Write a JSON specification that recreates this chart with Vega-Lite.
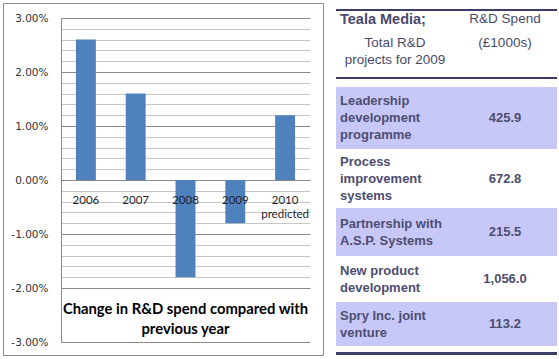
{
  "$schema": "https://vega.github.io/schema/vega-lite/v6.json",
  "background": "white",
  "padding": {"left": 2, "top": 2, "right": 0, "bottom": 0},
  "config": {"view": {"stroke": null}},
  "datasets": {
    "changes": [
      {"year": "2006", "change": 0.026},
      {"year": "2007", "change": 0.016},
      {"year": "2008", "change": -0.018},
      {"year": "2009", "change": -0.008},
      {"year": "2010", "change": 0.012}
    ],
    "projects": [
      {"project": "Leadership\ndevelopment\nprogramme", "spend": 425.9},
      {"project": "Process\nimprovement\nsystems", "spend": 672.8},
      {"project": "Partnership with\nA.S.P. Systems", "spend": 215.5},
      {"project": "New product\ndevelopment", "spend": 1056.0},
      {"project": "Spry Inc. joint\nventure", "spend": 113.2}
    ]
  },
  "spacing": 13,
  "bounds": "flush",
  "hconcat": [
    {
      "width": 320,
      "height": 352,
      "view": {"stroke": "#8c8c8c"},
      "layer": [
        {
          "data": {"name": "changes"},
          "mark": {"type": "bar", "color": "#4f81bd"},
          "encoding": {
            "x": {
              "field": "year", "type": "nominal", "sort": null,
              "scale": {"type": "band", "range": [58, 307], "paddingInner": 0.6, "paddingOuter": 0.3},
              "axis": {
                "orient": "bottom", "offset": -175, "domain": false, "ticks": false, "title": null, "zindex": 1,
                "labelAngle": 0, "labelFont": "Lato", "labelFontSize": 11.5, "labelColor": "#1f1f2f",
                "labelPadding": 14, "labelLineHeight": 14,
                "labelExpr": "datum.value == '2010' ? ['2010', 'predicted'] : datum.value"
              }
            },
            "y": {
              "field": "change", "type": "quantitative",
              "scale": {"domain": [-0.03, 0.03], "range": [339, 15], "nice": false, "zero": false},
              "axis": {
                "orient": "left", "offset": -58, "title": null, "tickCount": 100, "labelOverlap": false,
                "values": [-0.03, -0.02, -0.018, -0.016, -0.014, -0.012, -0.01, -0.008, -0.006, -0.004, -0.002, 0, 0.002, 0.004, 0.006, 0.008, 0.01, 0.012, 0.014, 0.016, 0.018, 0.02, 0.022, 0.024, 0.026, 0.028, 0.03],
                "labelExpr": "abs(datum.value * 100 - round(datum.value * 100)) < 0.001 ? (datum.value < 0 ? '-' : '') + format(abs(datum.value), '.2%') : ''",
                "grid": true,
                "gridColor": {"condition": {"test": "abs(datum.value * 100 - round(datum.value * 100)) < 0.001", "value": "#8a8a8a"}, "value": "#c6c6c6"},
                "ticks": false, "domain": true, "domainColor": "#8a8a8a",
                "labelFont": "DejaVu Sans", "labelFontSize": 10.5, "labelColor": "#333333", "labelPadding": 13
              }
            }
          }
        },
        {
          "data": {"values": [{"caption": "Change in R&D spend compared with\nprevious year"}]},
          "mark": {"type": "text", "lineBreak": "\n", "lineHeight": 20, "font": "Lato", "fontWeight": "bold", "fontSize": 14.8, "baseline": "middle", "align": "center", "color": "#000000"},
          "encoding": {
            "text": {"field": "caption"},
            "x": {"datum": "2008"},
            "y": {"datum": -0.024}
          }
        }
      ]
    },
    {
      "spacing": 0,
      "bounds": "flush",
      "vconcat": [
        {"width": 221, "height": 6, "data": {"values": [{}]}, "mark": {"type": "rect", "opacity": 0}, "encoding": {}},
        {"width": 221, "height": 2, "view": {"fill": "#3d3d6b"}, "data": {"values": [{}]}, "mark": {"type": "rect", "opacity": 0}, "encoding": {}},
        {
          "width": 221, "height": 66,
          "data": {"values": [{}]},
          "layer": [
            {
              "mark": {"type": "text", "text": "Teala Media;", "align": "left", "baseline": "line-top", "lineHeight": 17, "font": "Liberation Sans", "fontSize": 14.5, "fontWeight": "bold", "color": "#4a4a6c"},
              "encoding": {
                "x": {"datum": "Project", "bandPosition": 0, "scale": {"type": "band", "domain": ["Project", "Spend"], "range": [4, 224], "paddingInner": 0, "paddingOuter": 0}, "axis": null},
                "y": {"datum": 1, "type": "ordinal", "scale": {"type": "point", "domain": [1, 2], "range": [0, 23.5], "padding": 0}, "axis": null}
              }
            },
            {
              "mark": {"type": "text", "text": ["Total R&D", "projects for 2009"], "align": "center", "baseline": "line-top", "lineHeight": 17, "font": "Liberation Sans", "fontSize": 13.5, "color": "#4a4a6c"},
              "encoding": {
                "x": {"datum": "Project", "scale": {"type": "band", "domain": ["Project", "Spend"], "range": [4, 224], "paddingInner": 0, "paddingOuter": 0}, "axis": null},
                "y": {"datum": 2, "type": "ordinal", "scale": {"type": "point", "domain": [1, 2], "range": [0, 23.5], "padding": 0}, "axis": null}
              }
            },
            {
              "mark": {"type": "text", "text": "R&D Spend", "align": "center", "baseline": "line-top", "lineHeight": 17, "font": "Liberation Sans", "fontSize": 13.5, "color": "#4a4a6c"},
              "encoding": {
                "x": {"datum": "Spend", "scale": {"type": "band", "domain": ["Project", "Spend"], "range": [4, 224], "paddingInner": 0, "paddingOuter": 0}, "axis": null},
                "y": {"datum": 1, "type": "ordinal", "scale": {"type": "point", "domain": [1, 2], "range": [0, 23.5], "padding": 0}, "axis": null}
              }
            },
            {
              "mark": {"type": "text", "text": "(£1000s)", "align": "center", "baseline": "line-top", "lineHeight": 17, "font": "Liberation Sans", "fontSize": 13.5, "color": "#4a4a6c"},
              "encoding": {
                "x": {"datum": "Spend", "scale": {"type": "band", "domain": ["Project", "Spend"], "range": [4, 224], "paddingInner": 0, "paddingOuter": 0}, "axis": null},
                "y": {"datum": 2, "type": "ordinal", "scale": {"type": "point", "domain": [1, 2], "range": [0, 23.5], "padding": 0}, "axis": null}
              }
            }
          ]
        },
        {"width": 221, "height": 2, "view": {"fill": "#3d3d6b"}, "data": {"values": [{}]}, "mark": {"type": "rect", "opacity": 0}, "encoding": {}},
        {"width": 221, "height": 8, "data": {"values": [{}]}, "mark": {"type": "rect", "opacity": 0}, "encoding": {}},
        {
          "width": 221, "height": 62, "view": {"fill": "#c8c8f8"},
          "data": {"name": "projects"},
          "transform": [{"filter": {"field": "project", "equal": "Leadership\ndevelopment\nprogramme"}}],
          "layer": [
            {"mark": {"type": "text", "align": "left", "baseline": "middle", "dy": -17, "lineBreak": "\n", "lineHeight": 17, "font": "Liberation Sans", "fontSize": 13, "fontWeight": "bold", "color": "#4d4d70"},
             "encoding": {"text": {"field": "project"}, "x": {"datum": "Project", "bandPosition": 0, "scale": {"type": "band", "domain": ["Project", "Spend"], "range": [4, 224], "paddingInner": 0, "paddingOuter": 0}, "axis": null}}},
            {"mark": {"type": "text", "align": "center", "baseline": "middle", "font": "Liberation Sans", "fontSize": 13, "fontWeight": "bold", "color": "#4d4d70"},
             "encoding": {"text": {"field": "spend", "type": "quantitative", "format": ",.1f"}, "x": {"datum": "Spend", "scale": {"type": "band", "domain": ["Project", "Spend"], "range": [4, 224], "paddingInner": 0, "paddingOuter": 0}, "axis": null}}}
          ]
        },
        {
          "width": 221, "height": 59,
          "data": {"name": "projects"},
          "transform": [{"filter": {"field": "project", "equal": "Process\nimprovement\nsystems"}}],
          "layer": [
            {"mark": {"type": "text", "align": "left", "baseline": "middle", "dy": -17, "lineBreak": "\n", "lineHeight": 17, "font": "Liberation Sans", "fontSize": 13, "fontWeight": "bold", "color": "#4d4d70"},
             "encoding": {"text": {"field": "project"}, "x": {"datum": "Project", "bandPosition": 0, "scale": {"type": "band", "domain": ["Project", "Spend"], "range": [4, 224], "paddingInner": 0, "paddingOuter": 0}, "axis": null}}},
            {"mark": {"type": "text", "align": "center", "baseline": "middle", "font": "Liberation Sans", "fontSize": 13, "fontWeight": "bold", "color": "#4d4d70"},
             "encoding": {"text": {"field": "spend", "type": "quantitative", "format": ",.1f"}, "x": {"datum": "Spend", "scale": {"type": "band", "domain": ["Project", "Spend"], "range": [4, 224], "paddingInner": 0, "paddingOuter": 0}, "axis": null}}}
          ]
        },
        {
          "width": 221, "height": 48, "view": {"fill": "#c8c8f8"},
          "data": {"name": "projects"},
          "transform": [{"filter": {"field": "project", "equal": "Partnership with\nA.S.P. Systems"}}],
          "layer": [
            {"mark": {"type": "text", "align": "left", "baseline": "middle", "dy": -8.5, "lineBreak": "\n", "lineHeight": 17, "font": "Liberation Sans", "fontSize": 13, "fontWeight": "bold", "color": "#4d4d70"},
             "encoding": {"text": {"field": "project"}, "x": {"datum": "Project", "bandPosition": 0, "scale": {"type": "band", "domain": ["Project", "Spend"], "range": [4, 224], "paddingInner": 0, "paddingOuter": 0}, "axis": null}}},
            {"mark": {"type": "text", "align": "center", "baseline": "middle", "font": "Liberation Sans", "fontSize": 13, "fontWeight": "bold", "color": "#4d4d70"},
             "encoding": {"text": {"field": "spend", "type": "quantitative", "format": ",.1f"}, "x": {"datum": "Spend", "scale": {"type": "band", "domain": ["Project", "Spend"], "range": [4, 224], "paddingInner": 0, "paddingOuter": 0}, "axis": null}}}
          ]
        },
        {
          "width": 221, "height": 46,
          "data": {"name": "projects"},
          "transform": [{"filter": {"field": "project", "equal": "New product\ndevelopment"}}],
          "layer": [
            {"mark": {"type": "text", "align": "left", "baseline": "middle", "dy": -8.5, "lineBreak": "\n", "lineHeight": 17, "font": "Liberation Sans", "fontSize": 13, "fontWeight": "bold", "color": "#4d4d70"},
             "encoding": {"text": {"field": "project"}, "x": {"datum": "Project", "bandPosition": 0, "scale": {"type": "band", "domain": ["Project", "Spend"], "range": [4, 224], "paddingInner": 0, "paddingOuter": 0}, "axis": null}}},
            {"mark": {"type": "text", "align": "center", "baseline": "middle", "font": "Liberation Sans", "fontSize": 13, "fontWeight": "bold", "color": "#4d4d70"},
             "encoding": {"text": {"field": "spend", "type": "quantitative", "format": ",.1f"}, "x": {"datum": "Spend", "scale": {"type": "band", "domain": ["Project", "Spend"], "range": [4, 224], "paddingInner": 0, "paddingOuter": 0}, "axis": null}}}
          ]
        },
        {
          "width": 221, "height": 44, "view": {"fill": "#c8c8f8"},
          "data": {"name": "projects"},
          "transform": [{"filter": {"field": "project", "equal": "Spry Inc. joint\nventure"}}],
          "layer": [
            {"mark": {"type": "text", "align": "left", "baseline": "middle", "dy": -8.5, "lineBreak": "\n", "lineHeight": 17, "font": "Liberation Sans", "fontSize": 13, "fontWeight": "bold", "color": "#4d4d70"},
             "encoding": {"text": {"field": "project"}, "x": {"datum": "Project", "bandPosition": 0, "scale": {"type": "band", "domain": ["Project", "Spend"], "range": [4, 224], "paddingInner": 0, "paddingOuter": 0}, "axis": null}}},
            {"mark": {"type": "text", "align": "center", "baseline": "middle", "font": "Liberation Sans", "fontSize": 13, "fontWeight": "bold", "color": "#4d4d70"},
             "encoding": {"text": {"field": "spend", "type": "quantitative", "format": ",.1f"}, "x": {"datum": "Spend", "scale": {"type": "band", "domain": ["Project", "Spend"], "range": [4, 224], "paddingInner": 0, "paddingOuter": 0}, "axis": null}}}
          ]
        },
        {"width": 221, "height": 6, "data": {"values": [{}]}, "mark": {"type": "rect", "opacity": 0}, "encoding": {}},
        {"width": 221, "height": 3, "view": {"fill": "#3d3d6b"}, "data": {"values": [{}]}, "mark": {"type": "rect", "opacity": 0}, "encoding": {}}
      ]
    }
  ]
}
